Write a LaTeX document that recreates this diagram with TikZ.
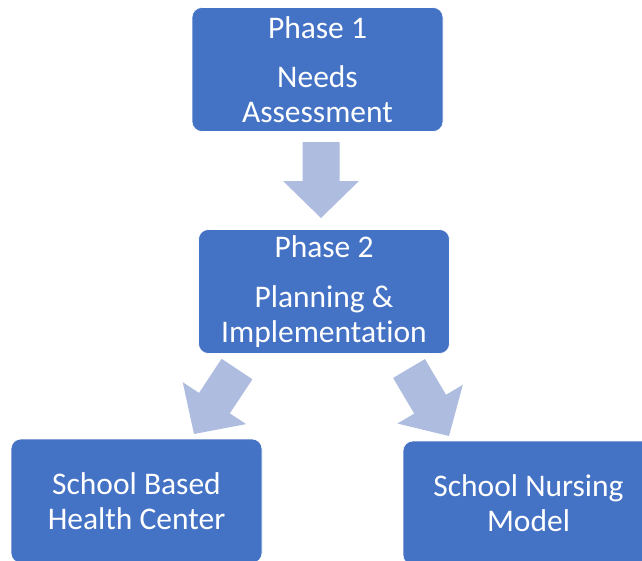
\documentclass[tikz,border=0pt]{standalone}
\usepackage{fontspec}
\setmainfont{Carlito}[Ligatures=NoCommon]
\usetikzlibrary{calc}

\definecolor{boxblue}{HTML}{4472C4}
\definecolor{arrowblue}{HTML}{AEBCE0}

% block arrow from tail coordinate #1 to tip coordinate #2
\newcommand{\fatarrow}[2]{%
  \coordinate (#1-neck) at ($(#2)!37pt!(#1)$);
  \fill[fat] ($(#1)!18.5pt!90:(#2)$) -- ($(#1-neck)!18.5pt!90:(#2)$)
    -- ($(#1-neck)!38pt!90:(#2)$) -- (#2) -- ($(#1-neck)!38pt!-90:(#2)$)
    -- ($(#1-neck)!18.5pt!-90:(#2)$) -- ($(#1)!18.5pt!-90:(#2)$) -- cycle;
}

\begin{document}
\begin{tikzpicture}[x=1pt, y=-1pt,
  phase/.style={draw=white, line width=0.6pt, fill=boxblue, rounded corners=10pt,
    minimum width=251pt, minimum height=124pt, inner sep=0pt, align=center,
    text=white, font=\fontsize{31.5}{35}\selectfont},
  fat/.style={fill=arrowblue}
]
  \clip (0,0) rectangle (642,560);

  \node[phase] (needs) at (317.5,69.5) {Phase 1\\[14pt]Needs\\Assessment};
  \node[phase] (plan) at (324,291.5) {Phase 2\\[15pt]Planning \&\\Implementation};
  \node[phase] (sbhc) at (136.5,501) {School Based\\Health Center};
  \node[phase] (nurse) at (528.5,503) {School Nursing\\Model};

  % tails and tips of the block arrows
  \coordinate (a1) at (321,142);   \coordinate (a1t) at (321,218);
  \coordinate (a2) at (237,369);   \coordinate (a2t) at (194,434);
  \coordinate (a3) at (409,368.5); \coordinate (a3t) at (449,436);

  \fatarrow{a1}{a1t}
  \fatarrow{a2}{a2t}
  \fatarrow{a3}{a3t}
\end{tikzpicture}
\end{document}
